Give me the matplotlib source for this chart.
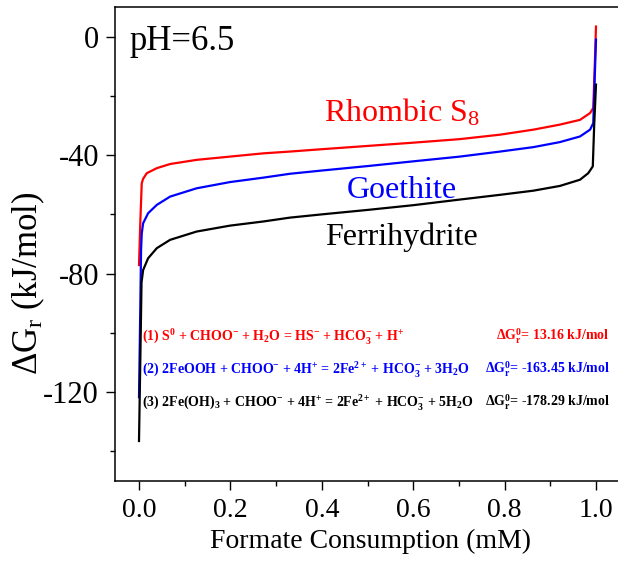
import numpy as np
import matplotlib
matplotlib.use("Agg")
import matplotlib.pyplot as plt
from matplotlib.ticker import MultipleLocator

plt.rcParams['font.family'] = ['Liberation Serif', 'DejaVu Serif']
plt.rcParams['mathtext.fontset'] = 'custom'
plt.rcParams['mathtext.rm'] = 'Liberation Serif'
plt.rcParams['mathtext.it'] = 'Liberation Serif:italic'
plt.rcParams['mathtext.bf'] = 'Liberation Serif:bold'

# Data
x_s8 = [0.0, 0.003, 0.006, 0.009, 0.017, 0.039, 0.068, 0.126, 0.199, 0.272, 0.33, 0.4, 0.5,
        0.6, 0.702, 0.79, 0.863, 0.921, 0.965, 0.987, 0.994, 0.997, 1.0]
y_s8 = [-77.1, -62, -49.5, -48, -46.1, -44.4, -43.0, -41.6, -40.5, -39.4, -38.8, -38.0, -36.9,
        -35.8, -34.6, -33.1, -31.4, -29.7, -28.1, -25.8, -24.1, -11, 3.4]

x_goe = [0.0, 0.0025, 0.0045, 0.006, 0.009, 0.02, 0.039, 0.068, 0.126, 0.199, 0.272, 0.33, 0.4,
         0.5, 0.6, 0.702, 0.79, 0.863, 0.921, 0.965, 0.987, 0.994, 0.997, 1.0]
y_goe = [-121.7, -95, -72, -66.5, -63, -59.6, -56.8, -54.0, -51.2, -49.1, -47.6, -46.3, -45.2,
         -43.7, -42.1, -40.5, -38.8, -37.3, -35.6, -33.7, -31.4, -29.2, -15, -1]

x_fer = [0.0, 0.003, 0.0055, 0.009, 0.02, 0.039, 0.068, 0.126, 0.199, 0.272, 0.33, 0.4,
         0.5, 0.6, 0.702, 0.79, 0.863, 0.921, 0.965, 0.983, 0.993, 0.996, 1.0]
y_fer = [-136.5, -108, -83, -78.8, -74.8, -71.4, -68.6, -65.8, -63.8, -62.4, -61.1, -60.0,
         -58.5, -56.9, -55.0, -53.4, -52.0, -50.4, -48.3, -46.1, -43.8, -30, -16.2]

series_labels = ['Rhombic S$_{\\mathrm{8}}$', 'Goethite', 'Ferrihydrite']
series_colors = ['#ff0000', '#0000ff', '#000000']

eq_texts = [
    '(1) S$^{\\mathbf{0}}$ + CHOO$^{\\mathbf{-}}$ + H$_{\\mathbf{2}}$O = HS$^{\\mathbf{-}}$ + HCO$_{\\mathbf{3}}^{\\mathbf{-}}$ + H$^{\\mathbf{+}}$',
    '(2) 2FeOOH + CHOO$^{\\mathbf{-}}$ + 4H$^{\\mathbf{+}}$ = 2Fe$^{\\mathbf{2+}}$ + HCO$_{\\mathbf{3}}^{\\mathbf{-}}$ + 3H$_{\\mathbf{2}}$O',
    '(3) 2Fe(OH)$_{\\mathbf{3}}$ + CHOO$^{\\mathbf{-}}$ + 4H$^{\\mathbf{+}}$ = 2Fe$^{\\mathbf{2+}}$ + HCO$_{\\mathbf{3}}^{\\mathbf{-}}$ + 5H$_{\\mathbf{2}}$O',
]
dg0_texts = [
    '\u0394G$_{\\mathbf{r}}^{\\mathbf{0}}$= 13.16 kJ/mol',
    '\u0394G$_{\\mathbf{r}}^{\\mathbf{0}}$= -163.45 kJ/mol',
    '\u0394G$_{\\mathbf{r}}^{\\mathbf{0}}$= -178.29 kJ/mol',
]

W, H = 618, 562
fig = plt.figure(figsize=(W / 100, H / 100), dpi=100)
L, R, T, B = 115, 625, 7, 481
ax = fig.add_axes([L / W, 1 - B / H, (R - L) / W, (B - T) / H])

x0px, x1px = 139, 596
ppu = x1px - x0px
ax.set_xlim(-(x0px - L) / ppu, (R - x0px) / ppu)
ax.set_ylim(-150, 10)

for xs, ys, c in zip([x_s8, x_goe, x_fer], [y_s8, y_goe, y_fer], series_colors):
    ax.plot(xs, ys, color=c, lw=1.6, solid_joinstyle='round')

ax.spines['right'].set_visible(False)
for s in ['left', 'bottom', 'top']:
    ax.spines[s].set_linewidth(1.1)

ax.set_xticks([0.0, 0.2, 0.4, 0.6, 0.8, 1.0])
ax.set_xticklabels(['0.0', '0.2', '0.4', '0.6', '0.8', '1.0'])
ax.xaxis.set_minor_locator(MultipleLocator(0.1))
ax.set_yticks([0, -40, -80, -120])
ax.set_yticklabels(['0', '-40', '-80', '-120'])
ax.yaxis.set_minor_locator(MultipleLocator(20))
ax.tick_params(which='major', direction='out', length=6.5, width=1.0, pad=6)
ax.tick_params(axis='x', which='major', labelsize=20)
ax.tick_params(axis='y', which='major', labelsize=22, pad=5)
ax.tick_params(which='minor', direction='out', length=3.5, width=1.0)
ax.tick_params(top=False, right=False, which='both')

ax.set_xlabel('Formate Consumption (mM)', fontsize=20, labelpad=4)

def px(xp, yp):
    return xp / W, 1 - yp / H

fig.text(*px(28, 283), '\u0394G$_{\\mathrm{r}}$ (kJ/mol)', fontsize=25, rotation=90,
         ha='center', va='center')

fig.text(*px(129, 50), 'pH=6.5', fontsize=25, ha='left', va='baseline')
fig.text(*px(402, 122), series_labels[0], fontsize=23, color=series_colors[0], ha='center', va='baseline')
fig.text(*px(402, 198), series_labels[1], fontsize=23, color=series_colors[1], ha='center', va='baseline')
fig.text(*px(401, 245), series_labels[2], fontsize=23, color=series_colors[2], ha='center', va='baseline')

for i, (eq, dg, c) in enumerate(zip(eq_texts, dg0_texts, series_colors)):
    yb = 340 + i * 33.5
    fig.text(*px(142, yb), eq, fontsize=10, fontweight='bold', color=c, ha='left', va='baseline')
    fig.text(*px(610, yb), dg, fontsize=10, fontweight='bold', color=c, ha='right', va='baseline')

fig.savefig('out.png', dpi=100)
